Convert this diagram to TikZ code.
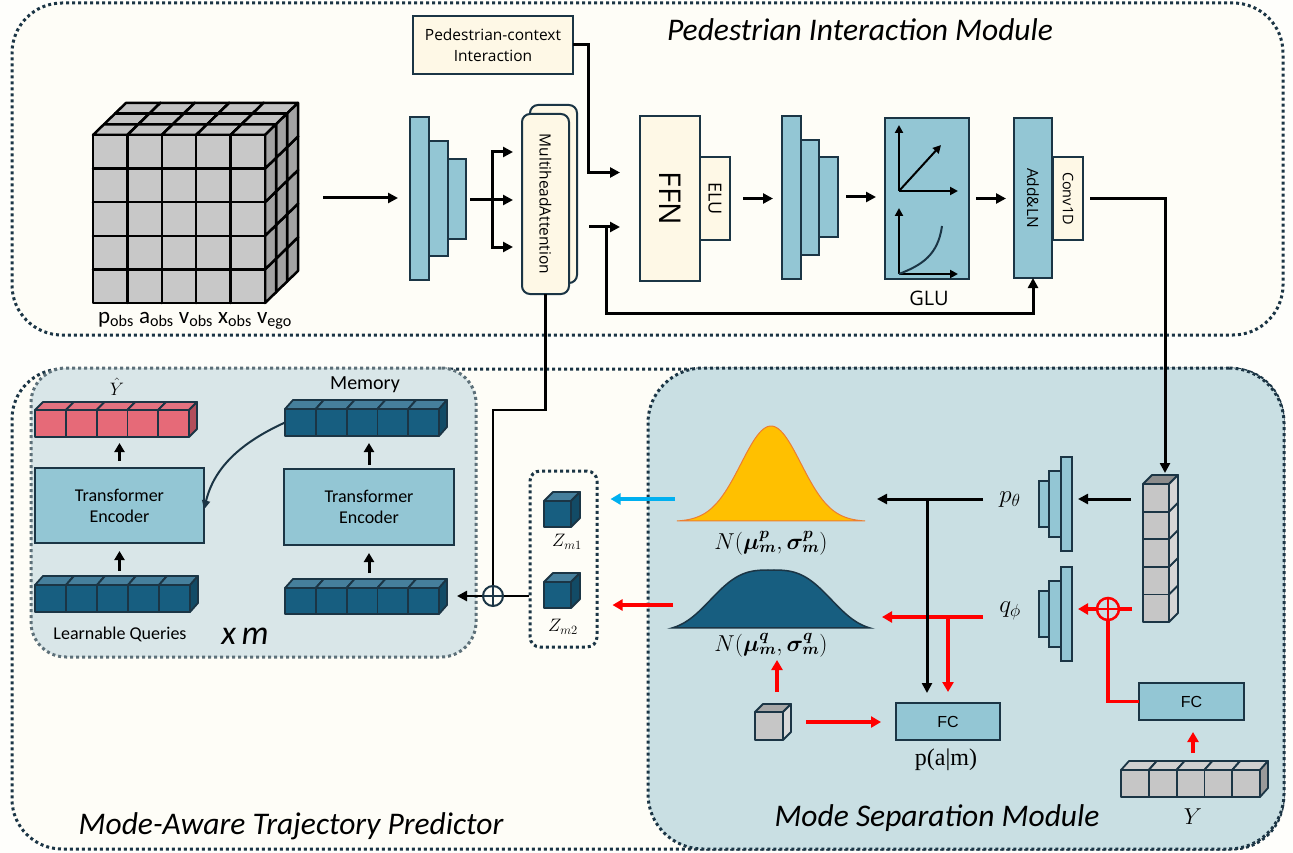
\documentclass[tikz,border=0pt]{standalone}
\usepackage{fix-cm}
\usepackage{amsmath,bm}
\usepackage{fontspec}
\setmainfont{Carlito}
\newfontfamily\segoe{Open Sans}
\newfontfamily\arial{Liberation Sans}
\newfontfamily\serifp{Liberation Serif}
\usetikzlibrary{arrows.meta,calc}
\definecolor{pagebg}{HTML}{FEFEFB}
\definecolor{edge}{HTML}{1B3545}
\definecolor{lblue}{HTML}{93C6D4}
\definecolor{cream}{HTML}{FEF8E6}
\definecolor{modbg}{HTML}{FEFDF7}
\definecolor{sepbg}{HTML}{C9DFE3}
\definecolor{xmbg}{HTML}{D9E6E8}
\definecolor{xmedge}{HTML}{5D7079}
\definecolor{myred}{HTML}{FF0000}
\definecolor{myblue}{HTML}{00B0F0}
\definecolor{gold}{HTML}{FFC000}
\definecolor{orng}{HTML}{ED7D31}
\definecolor{grf}{HTML}{C8C8C8}\definecolor{grt}{HTML}{C2C2C2}\definecolor{grs}{HTML}{A3A3A3}
\definecolor{cgf}{HTML}{C6C6C6}\definecolor{cgt}{HTML}{8C8C8C}\definecolor{cgs}{HTML}{D6D6D6}
\definecolor{ygf}{HTML}{C6C6C6}\definecolor{ygt}{HTML}{D0D0D0}\definecolor{ygs}{HTML}{9A9A9A}
\definecolor{sgf}{HTML}{C6C6C6}\definecolor{sgt}{HTML}{A8A8A8}\definecolor{sgs}{HTML}{DADADA}
\definecolor{dbf}{HTML}{175E80}\definecolor{dbt}{HTML}{467F9C}\definecolor{dbs}{HTML}{124B66}
\definecolor{pkf}{HTML}{E66A78}\definecolor{pkt}{HTML}{E37280}\definecolor{pks}{HTML}{B24E5B}
\newcommand{\bx}[6]{\node[#6, minimum width=#4pt, minimum height=#5pt] (#1) at ({#2+#4/2},{#3+#5/2}) {};}
\newcommand{\cub}[8]{%
 \filldraw[#8, fill=#7t] (#1,#2) -- ++(#5,-#6) -- ++(#3,0) -- ++(-#5,#6) -- cycle;
 \filldraw[#8, fill=#7s] ({#1+#3},#2) -- ++(#5,-#6) -- ++(0,#4) -- ++(-#5,#6) -- cycle;
 \filldraw[#8, fill=#7f] (#1,#2) rectangle ++(#3,#4);}
\tikzset{
 bxs/.style={draw=edge, line width=2pt, inner sep=0pt, outer sep=0pt, fill=lblue},
 crm/.style={bxs, fill=cream},
 ghost/.style={inner sep=0pt, outer sep=0pt},
 ln/.style={line width=3pt, black},
 lnb/.style={line width=2.5pt, black},
 arr/.style={ln, -{Triangle[length=10pt,width=10pt]}},
 uarr/.style={ln, -{Triangle[length=9pt,width=10pt]}},
 axarr/.style={line width=2pt, black, -{Triangle[length=8pt,width=8pt]}},
 rln/.style={line width=3.5pt, myred},
 rarr/.style={rln, -{Triangle[length=10pt,width=11pt]}},
 barr/.style={line width=3.5pt, myblue, -{Triangle[length=10pt,width=11pt]}},
 modbox/.style={draw=edge, line width=3pt, dash pattern=on 3pt off 3pt, inner sep=0pt},
 cubeln/.style={draw=edge, line width=1.8pt, line join=round},
 gridln/.style={draw=black, line width=2.5pt, line join=round},
 title/.style={font=\fontsize{31.5}{34}\selectfont\itshape},
 rot/.style={rotate=-90, font=\segoe\fontsize{15.5}{17}\selectfont},
 fctext/.style={font=\arial\fontsize{16}{18}\selectfont},
 cal/.style={font=\fontsize{18}{21}\selectfont, align=center},
 mth/.style={font=\fontsize{23}{25}\selectfont},
}
\begin{document}
\begin{tikzpicture}[x=1pt,y=-1pt]
\useasboundingbox[fill=pagebg] (0,0) rectangle (1293,853);
% ===== modules =====
\bx{pim}{12}{3}{1271}{332}{modbox, fill=modbg, rounded corners=50pt}
\node[title] (pimt) at (860,30) {Pedestrian Interaction Module};
\bx{matp}{12}{369}{1271}{480}{modbox, fill=modbg, rounded corners=50pt}
\bx{msm}{648}{368}{636}{481}{modbox, fill=sepbg, rounded corners=55pt}
\bx{xmb}{31}{368}{445}{289}{draw=xmedge, line width=3pt, dash pattern=on 3pt off 3pt, inner sep=0pt, rounded corners=35pt, fill=xmbg}
\node[title] (matpt) at (291,826) {Mode-Aware Trajectory Predictor};
\node[title] (msmt) at (937,818) {Mode Separation Module};
% ===== input grid =====
\foreach \k in {2,1,0}{\foreach \r in {4,3,2,1,0}{\foreach \c in {0,1,2,3,4}{%
 \cub{93+\c*34.4+\k*11}{135+\r*33.6-\k*10.7}{34.4}{33.6}{11}{10.7}{gr}{gridln}}}}
\node[ghost, minimum width=205pt, minimum height=210pt] (inputs) at (195.5,198) {};
\node[font=\fontsize{23}{25}\selectfont] (inlbl) at (195,321) {p\textsubscript{obs} a\textsubscript{obs} v\textsubscript{obs} x\textsubscript{obs} v\textsubscript{ego}};
% ===== stepped block 1 =====
\bx{s1a}{410}{117}{19}{163}{bxs}
\bx{s1b}{429}{141}{19}{115}{bxs}
\bx{s1c}{448}{159}{18}{80}{bxs}
\draw[arr] ([xshift=25pt]inputs.east) -- ([xshift=-12pt]inputs.east -| s1a.west);
% ===== multihead attention =====
\bx{mhab}{530}{105}{47}{178}{crm, rounded corners=8pt}
\bx{mha}{522}{114}{47}{180}{crm, rounded corners=8pt}
\node[rotate=-90, font=\segoe\fontsize{15.5}{17}\selectfont] (mhat) at (mha) {MultiheadAttention};
\coordinate (fork) at (492,200);
\coordinate (mhain) at ([xshift=-9pt]mha.west);
\draw[ln] ([xshift=4pt]s1c.east |- fork) -- (fork);
\draw[arr] (fork) -- (fork -| mhain);
\draw[arr] (fork) |- ([yshift=48pt]fork -| mhain);
\draw[arr] (fork) |- ([yshift=-47pt]fork -| mhain);
% ===== pedestrian-context =====
\bx{pci}{413}{16}{160}{58}{crm}
\node[font=\segoe\fontsize{15.5}{21}\selectfont, align=center] (pcit) at (pci) {Pedestrian-context\\Interaction};
% ===== FFN =====
\bx{ffn}{640}{116}{60}{165}{crm}
\node[rotate=-90, font=\segoe\fontsize{30}{32}\selectfont] (ffnt) at (ffn) {FFN};
\bx{elu}{700}{157}{30}{83}{crm}
\node[rot, font=\segoe\fontsize{18}{20}\selectfont] (elut) at (elu) {ELU};
\coordinate (ffnA) at ([xshift=-20pt,yshift=26pt]ffn.west);
\coordinate (ffnB) at ([xshift=-20pt,yshift=-28.5pt]ffn.west);
\coordinate (res) at (589,227);
\coordinate (resd) at (606,227);
\draw[arr] (pci.east) -| ($(ffnA)+(-32,0)$) -- (ffnA);
\draw[arr] (res) -- (ffnB);
% ===== stepped block 2 =====
\bx{s2a}{782}{116}{19}{163}{bxs}
\bx{s2b}{801}{140}{18}{115}{bxs}
\bx{s2c}{819}{157}{19}{80}{bxs}
\draw[arr] ([xshift=13pt]elu.east) -- ([xshift=-9pt]elu.east -| s2a.west);
% ===== GLU =====
\bx{glu}{885}{118}{84}{161}{bxs}
\node[font=\segoe\fontsize{20}{22}\selectfont] (glut) at (929,298) {GLU};
\draw[axarr] (899,191) -- (899,125);
\draw[axarr] (899,191) -- (958,191);
\draw[axarr] (899,191) -- (941,145);
\draw[axarr] (899,274) -- (899,208);
\draw[axarr] (899,274) -- (958,274);
\draw[edge, line width=2pt] (899,274) .. controls (922,265) and (938,255) .. (942,226);
\draw[arr] ([xshift=8pt]s2c.east) -- ([xshift=-9pt]s2c.east -| glu.west);
% ===== Add&LN / Conv1D =====
\bx{addln}{1014}{118}{38}{160}{bxs}
\node[rot] (addlnt) at (addln) {Add\&LN};
\bx{conv}{1053}{157}{30}{83}{crm}
\node[rot, font=\segoe\fontsize{14.5}{16}\selectfont] (convt) at (conv) {Conv1D};
\draw[arr] ([xshift=7pt]glu.east) -- ([xshift=-8pt]glu.east -| addln.west);
\draw[arr] (resd) -- (606,313) -| (addln.south);
% ===== Mode separation module =====
\foreach \r in {4,3,2,1,0}{\cub{1143}{484+\r*27.6}{26}{27.6}{9}{9}{cg}{cubeln}}
\node[ghost, minimum width=26pt, minimum height=138pt] (colm) at (1156,553) {};
\draw[arr] ([xshift=7pt]conv.east) -| ([xshift=9pt,yshift=11pt]colm.north);
\bx{pa}{1061}{457}{11}{94}{bxs}
\bx{pb}{1049}{471}{12}{66}{bxs}
\bx{pc}{1039}{481}{10}{46}{bxs}
\bx{qa}{1061}{567}{11}{94}{bxs}
\bx{qb}{1049}{581}{12}{66}{bxs}
\bx{qc}{1039}{591}{10}{46}{bxs}
\coordinate (colp) at (1131,499);
\draw[arr] (colp) -- (colp -| {$(pa.east)+(6,0)$});
\node[mth, font=\fontsize{25}{27}\selectfont] (pth) at (1010,500) {$p_\theta$};
\node[mth, font=\fontsize{25}{27}\selectfont] (qph) at (1010,611) {$q_\phi$};
\node[circle, draw=myred, line width=2.5pt, minimum size=22pt, inner sep=0pt] (rplus) at (1108,609) {};
\draw[myred, line width=2.5pt] (rplus.north) -- (rplus.south) (rplus.west) -- (rplus.east);
\coordinate (colq) at (1132,609);
\draw[rln] (colq) -- (rplus.east);
\draw[rarr] (rplus.west) -- (rplus.west -| {$(qa.east)+(6,0)$});
\bx{fc2}{1139}{683}{105}{37}{bxs}
\node[fctext] (fc2t) at (fc2) {FC};
\draw[rln] (rplus.south) |- (fc2.west);
\foreach \i in {0,1,2,3,4}{\cub{1121+\i*27.8}{770}{27.8}{27}{8}{9}{yg}{cubeln}}
\node[ghost, minimum width=139pt, minimum height=27pt] (yrow) at (1190.5,783.5) {};
\draw[rarr] ([xshift=2.5pt,yshift=17pt]yrow.north) -- ([xshift=2.5pt,yshift=-12pt]yrow.north |- fc2.south);
\node[mth] (ylbl) at (1193,817) {$Y$};
% middle FC
\bx{fc1}{896}{703}{104}{37}{bxs}
\node[fctext] (fc1t) at (fc1) {FC};
\node[font=\serifp\fontsize{24}{26}\selectfont] (fc1l) at (946,760) {p(a|m)};
\coordinate (pstart) at (983,499);
\coordinate (qstart) at (983,617);
\coordinate (pjoin) at (927,499);
\coordinate (qjoin) at (948,617);
\draw[rarr] (qstart) -- (882,617);
\draw[rarr] (qjoin) -- (qjoin |- {$(fc1.north)+(0,-11)$});
\draw[arr] (pstart) -- (877,499);
\draw[arr] (pjoin) -- (pjoin |- {$(fc1.north)+(0,-10)$});
% small cube
\cub{755}{712}{28}{28}{8}{8}{sg}{cubeln}
\node[ghost, minimum width=36pt, minimum height=36pt] (scube) at (773,722) {};
\draw[rarr] ([xshift=15pt]scube.east) -- ([xshift=-15pt]scube.east -| fc1.west);
\draw[rarr] ([xshift=4pt,yshift=12pt]scube.north) -- ([xshift=4pt,yshift=44pt]scube.north);
% gaussians
\filldraw[fill=gold, draw=orng, line width=1pt] plot[domain=-94:94, samples=90, smooth] ({771+\x},{521-95*(exp(-0.5*(\x/30)^2)-0.0073)/(1-0.0073)}) -- cycle;
\node[ghost, minimum width=188pt, minimum height=95pt] (gp) at (771,473.5) {};
\node[mth] (gpl) at (771,543) {$N\!\left(\bm{\mu}_{\bm m}^{\bm p},\bm{\sigma}_{\bm m}^{\bm p}\right)$};
\filldraw[fill=dbf, draw=edge, line width=1.5pt] plot[domain=-99:99, samples=100, smooth] ({771+\x},{628-58*(exp(-0.5*(abs(\x)/55)^3)-0.054)/(1-0.054)}) -- cycle;
\node[ghost, minimum width=198pt, minimum height=58pt] (gq) at (771,599) {};
\node[mth] (gql) at (771,645) {$N\!\left(\bm{\mu}_{\bm m}^{\bm q},\bm{\sigma}_{\bm m}^{\bm q}\right)$};
% Z box
\bx{zbox}{530}{471}{67}{176}{draw=edge, line width=3pt, dash pattern=on 3pt off 3pt, inner sep=0pt, rounded corners=10pt}
\cub{544}{501}{27}{26}{9}{9}{db}{cubeln}
\cub{544}{582}{27}{26}{9}{9}{db}{cubeln}
\node[font=\fontsize{18}{20}\selectfont] (z1) at (567,542) {$Z_{m1}$};
\node[font=\fontsize{18}{20}\selectfont] (z2) at (563,627) {$Z_{m2}$};
\draw[barr] ([xshift=-2pt]gp.west |- 0,499) -- ([xshift=12pt]zbox.east |- 0,499);
\draw[rarr] ([xshift=1pt]gq.west |- 0,605) -- ([xshift=14pt]zbox.east |- 0,605);
% ===== Mode-aware predictor =====
\foreach \i in {0,1,2,3,4}{\cub{35+\i*30.8}{410}{30.8}{27}{8}{8}{pk}{cubeln}}
\node[ghost, minimum width=154pt, minimum height=27pt] (ypk) at (112,423.5) {};
\node[font=\fontsize{18}{20}\selectfont, inner sep=1pt] (yhat) at (117,387) {$\hat{Y}$};
\bx{te1}{35}{468}{169}{75}{bxs}
\node[cal] (te1t) at (te1) {Transformer\\Encoder};
\foreach \i in {0,1,2,3,4}{\cub{35+\i*31}{585}{31}{27}{8}{9}{db}{cubeln}}
\node[ghost, minimum width=155pt, minimum height=27pt] (lq) at (112.5,598.5) {};
\node[font=\fontsize{18}{20}\selectfont] (lqt) at (120,634) {Learnable Queries};
\node[font=\fontsize{34}{36}\selectfont\itshape] (xm) at (245,636) {x\,m};
\foreach \i in {0,1,2,3,4}{\cub{285+\i*30.8}{409}{30.8}{27}{8}{9}{db}{cubeln}}
\node[ghost, minimum width=154pt, minimum height=27pt] (mem) at (362,422.5) {};
\node[font=\fontsize{20}{22}\selectfont] (memt) at (365,385) {Memory};
\bx{te2}{284}{469}{170}{76}{bxs}
\node[cal] (te2t) at (te2) {Transformer\\Encoder};
\foreach \i in {0,1,2,3,4}{\cub{285+\i*30.8}{588}{30.8}{26}{8}{9}{db}{cubeln}}
\node[ghost, minimum width=154pt, minimum height=26pt] (inr) at (362,601) {};
\draw[uarr] ([yshift=7pt]te1.north) -- ([yshift=-6pt]te1.north |- ypk.south);
\draw[uarr] ([yshift=14pt]te1.north |- lq.north) -- ([yshift=-8pt]te1.south);
\draw[uarr] ([yshift=4pt]te2.north) -- ([yshift=-7pt]te2.north |- mem.south);
\draw[uarr] ([yshift=15pt]te2.north |- inr.north) -- ([yshift=-8pt]te2.south);
\draw[edge, line width=2pt, -{Triangle[length=9pt,width=8pt]}] (mem.west) .. controls (240,443) and (214,468) .. ([yshift=-4pt]te1.east);
% plus junction
\node[circle, draw=edge, line width=2pt, minimum size=20pt, inner sep=0pt] (plus1) at (493,596) {};
\draw[edge, line width=2pt] (plus1.north) -- (plus1.south) (plus1.west) -- (plus1.east);
\draw[lnb] (mha.south) -- ++(0,116) -| (plus1.north);
\draw[lnb] (zbox.west |- plus1.east) -- (plus1.east);
\draw[lnb, -{Triangle[length=10pt,width=10pt]}] (plus1.west) -- ([xshift=18pt]inr.east |- plus1.west);
\end{tikzpicture}
\end{document}
